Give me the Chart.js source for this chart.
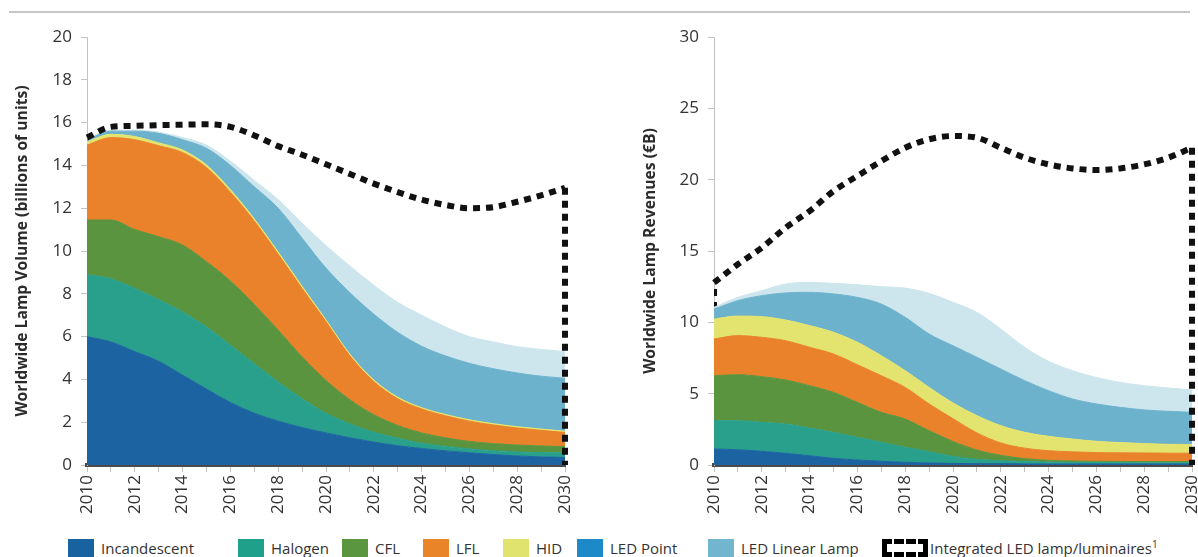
<!DOCTYPE html>
<html>
<head>
<meta charset="utf-8">
<script src="https://cdn.jsdelivr.net/npm/chart.js@4.4.1/dist/chart.umd.min.js"></script>
<style>
  html, body { margin: 0; padding: 0; background: #fff; }
  body { width: 1198px; height: 557px; overflow: hidden; position: relative; font-family: "Open Sans", sans-serif; }
  .rule { position: absolute; left: 9px; top: 11px; width: 1181px; height: 2px; background: #c6c6c6; }
  .chart { position: absolute; top: 0; height: 520px; }
  #left-wrap { left: 0; width: 600px; }
  #right-wrap { left: 600px; width: 640px; }
  .legend { position: absolute; top: 538px; left: 0; width: 1198px; height: 19px; font-size: 15px; color: #333; }
  .legend-item { position: absolute; top: 0; height: 19px; display: flex; align-items: center; white-space: nowrap; }
  .swatch { width: 26px; height: 18px; margin-right: 7px; }
  .dash-swatch { width: 36px; height: 8px; border: 5px dashed #000; margin-right: 2px; }
  sup { font-size: 10px; line-height: 0; }
</style>
</head>
<body>
<div class="rule"></div>
<div class="chart" id="left-wrap"><canvas id="chart-volume" width="600" height="520"></canvas></div>
<div class="chart" id="right-wrap"><canvas id="chart-revenue" width="640" height="520"></canvas></div>
<div class="legend" id="legend"></div>

<script>
const years = [2010, 2011, 2012, 2013, 2014, 2015, 2016, 2017, 2018, 2019, 2020,
  2021, 2022, 2023, 2024, 2025, 2026, 2027, 2028, 2029, 2030];

const seriesNames = ["Incandescent", "Halogen", "CFL", "LFL", "HID", "LED Linear Lamp", "LED Point"];

// Worldwide lamp volume, billions of units (stacked layers)
const volIncandescent = [6.0, 5.75, 5.3, 4.85, 4.2, 3.55, 2.92, 2.42, 2.05, 1.75, 1.5, 1.27, 1.07, 0.9, 0.77, 0.66, 0.57, 0.49, 0.42, 0.38, 0.35];
const volHalogen = [2.9, 2.95, 2.95, 2.88, 2.95, 2.9, 2.68, 2.31, 1.83, 1.35, 0.92, 0.65, 0.46, 0.35, 0.25, 0.21, 0.18, 0.18, 0.19, 0.2, 0.21];
const volCFL = [2.55, 2.75, 2.75, 2.94, 3.13, 3.05, 3.0, 2.77, 2.42, 1.95, 1.53, 1.13, 0.82, 0.6, 0.48, 0.4, 0.35, 0.33, 0.32, 0.31, 0.3];
const volLFL = [3.5, 3.85, 4.2, 4.25, 4.32, 4.4, 4.15, 3.9, 3.55, 3.2, 2.75, 2.05, 1.55, 1.25, 1.12, 1.03, 0.95, 0.87, 0.8, 0.73, 0.66];
const volHID = [0.15, 0.15, 0.15, 0.13, 0.12, 0.12, 0.12, 0.1, 0.1, 0.1, 0.08, 0.08, 0.07, 0.07, 0.06, 0.06, 0.06, 0.06, 0.06, 0.06, 0.06];
const volLEDLinear = [0.1, 0.15, 0.25, 0.45, 0.48, 0.78, 1.13, 1.5, 2.05, 2.25, 2.42, 2.87, 3.08, 3.03, 2.87, 2.74, 2.64, 2.57, 2.51, 2.47, 2.47];
const volLEDPoint = [0.05, 0.05, 0.05, 0.05, 0.1, 0.15, 0.2, 0.3, 0.4, 0.7, 1.05, 1.25, 1.35, 1.4, 1.45, 1.35, 1.25, 1.25, 1.23, 1.25, 1.25];
const volIntegratedTotal = [15.3, 15.8, 15.85, 15.88, 15.9, 15.92, 15.8, 15.4, 14.9, 14.5, 14.05, 13.6, 13.15, 12.75, 12.4, 12.15, 12.0, 12.05, 12.3, 12.6, 12.95];
const volumeTicks = [0, 2, 4, 6, 8, 10, 12, 14, 16, 18, 20];

// Worldwide lamp revenues, EUR billions (stacked layers)
const revIncandescent = [1.12, 1.07, 0.96, 0.82, 0.65, 0.47, 0.35, 0.26, 0.19, 0.14, 0.11, 0.09, 0.08, 0.07, 0.07, 0.07, 0.07, 0.07, 0.07, 0.07, 0.07];
const revHalogen = [1.98, 2.03, 2.03, 2.05, 1.94, 1.82, 1.59, 1.33, 1.05, 0.79, 0.49, 0.31, 0.22, 0.17, 0.13, 0.11, 0.1, 0.09, 0.08, 0.08, 0.08];
const revCFL = [3.16, 3.23, 3.2, 3.09, 2.97, 2.8, 2.45, 2.1, 1.98, 1.48, 1.05, 0.65, 0.38, 0.21, 0.13, 0.1, 0.09, 0.09, 0.09, 0.09, 0.09];
const revLFL = [2.57, 2.74, 2.76, 2.75, 2.69, 2.69, 2.64, 2.57, 2.22, 1.87, 1.6, 1.2, 0.87, 0.73, 0.67, 0.64, 0.61, 0.6, 0.6, 0.59, 0.59];
const revHID = [1.4, 1.37, 1.45, 1.45, 1.52, 1.52, 1.57, 1.4, 1.17, 1.16, 1.1, 1.21, 1.21, 1.11, 1.01, 0.9, 0.79, 0.72, 0.66, 0.62, 0.6];
const revLEDLinear = [0.7, 1.08, 1.47, 1.9, 2.33, 2.69, 3.15, 3.62, 3.74, 3.74, 4.01, 4.09, 3.97, 3.62, 3.2, 2.81, 2.62, 2.47, 2.36, 2.31, 2.26];
const revLEDPoint = [0.12, 0.23, 0.35, 0.63, 0.7, 0.74, 0.89, 1.22, 2.05, 2.85, 3.04, 3.15, 2.8, 2.34, 2.06, 1.98, 1.86, 1.75, 1.7, 1.64, 1.57];
const revIntegratedTotal = [12.78, 14.07, 15.23, 16.64, 17.8, 19.2, 20.26, 21.3, 22.24, 22.83, 23.06, 22.94, 22.24, 21.54, 21.07, 20.79, 20.68, 20.79, 21.07, 21.54, 22.24];
const revenueTicks = [0, 5, 10, 15, 20, 25, 30];

const legendLabels = ["Incandescent", "Halogen", "CFL", "LFL", "HID", "LED Point", "LED Linear Lamp"];

const FONT = "'Open Sans', sans-serif";
const bandColors = ["#1b64a1", "#28a08b", "#5b943e", "#e9822a", "#e3e46f", "#6db2cc", "#cde5ed"];
const legendColors = ["#18629f", "#1fa08a", "#5a953f", "#ea8428", "#e1e36f", "#1e89c9", "#72b5ce"];
const LEGEND_X = [68, 238, 342, 423, 503, 577, 708, 882];

Chart.defaults.font.family = FONT;

function buildChart(canvasId, cfg) {
  const last = years.length - 1;
  const datasets = cfg.series.map((values, i) => ({
    label: seriesNames[i],
    data: years.map((x, j) => ({ x, y: values[j] })),
    backgroundColor: bandColors[i],
    borderColor: bandColors[i],
    borderWidth: 1,
    fill: i === 0 ? "origin" : "-1",
    pointRadius: 0,
    cubicInterpolationMode: "monotone",
    order: 1,
  }));

  const dashed = {
    borderColor: "#111",
    borderWidth: 6,
    borderDash: [7, 6],
    borderCapStyle: "butt",
    pointRadius: 0,
    fill: false,
  };
  // Integrated LED outline: top curve and drop at 2030 in front, 2010 edge behind the areas
  datasets.push({ ...dashed, label: "Integrated LED lamp/luminaires",
    data: years.map((x, j) => ({ x, y: cfg.total[j] })),
    cubicInterpolationMode: "monotone", stack: "outline-top", order: 0, clip: false });
  datasets.push({ ...dashed, label: "outline-drop",
    data: [{ x: years[last], y: cfg.total[last] }, { x: years[last], y: 0 }],
    tension: 0, stack: "outline-drop", order: 0, clip: false });
  datasets.push({ ...dashed, label: "outline-start",
    data: [{ x: years[0], y: 0 }, { x: years[0], y: cfg.total[0] }],
    tension: 0, stack: "outline-start", order: 2, clip: 0 });

  const ticks = cfg.ticks;
  return new Chart(document.getElementById(canvasId), {
    type: "line",
    data: { datasets },
    options: {
      responsive: false,
      animation: false,
      devicePixelRatio: 1,
      layout: { padding: { top: 37, right: cfg.rightPad, left: 0, bottom: 0 } },
      plugins: { legend: { display: false }, tooltip: { enabled: false } },
      scales: {
        x: {
          type: "linear",
          min: years[0],
          max: years[last],
          grid: { drawOnChartArea: false, tickLength: 7, color: "#c3c3c3" },
          border: { color: "#4a4a4a", width: 4, dash: [7, 6] },
          ticks: {
            stepSize: 1,
            autoSkip: false,
            minRotation: 90,
            maxRotation: 90,
            padding: 3,
            color: "#333",
            font: { size: 17 },
            callback: (v) => (Math.round(v) % 2 === 0 ? String(Math.round(v)) : ""),
          },
          afterFit: (s) => { s.height = 55; },
        },
        y: {
          stacked: true,
          min: ticks[0],
          max: ticks[ticks.length - 1],
          grid: { drawOnChartArea: false, tickLength: 6, color: "#c3c3c3" },
          border: { color: "#c3c3c3" },
          ticks: { stepSize: ticks[1] - ticks[0], padding: 9, color: "#333", font: { size: 17 } },
          title: {
            display: true,
            text: cfg.title,
            color: "#2b2b2b",
            font: { size: 15.7, weight: "bold" },
            padding: { top: cfg.titlePad, bottom: 0 },
          },
          afterFit: (s) => { s.width = cfg.axisWidth; },
        },
      },
    },
  });
}

buildChart("chart-volume", {
  series: [volIncandescent, volHalogen, volCFL, volLFL, volHID, volLEDLinear, volLEDPoint],
  total: volIntegratedTotal,
  ticks: volumeTicks,
  title: "Worldwide Lamp Volume (billions of units)",
  axisWidth: 87,
  titlePad: 13,
  rightPad: 35,
});

buildChart("chart-revenue", {
  series: [revIncandescent, revHalogen, revCFL, revLFL, revHID, revLEDLinear, revLEDPoint],
  total: revIntegratedTotal,
  ticks: revenueTicks,
  title: "Worldwide Lamp Revenues (€B)",
  axisWidth: 114,
  titlePad: 41,
  rightPad: 48,
});

// Shared legend under both charts
const legendEl = document.getElementById("legend");
legendLabels.forEach((name, i) => {
  const item = document.createElement("div");
  item.className = "legend-item";
  item.style.left = LEGEND_X[i] + "px";
  item.innerHTML = `<span class="swatch" style="background:${legendColors[i]}"></span><span>${name}</span>`;
  legendEl.appendChild(item);
});
const integrated = document.createElement("div");
integrated.className = "legend-item";
integrated.style.left = LEGEND_X[legendLabels.length] + "px";
integrated.innerHTML = '<span class="dash-swatch"></span><span>Integrated LED lamp/luminaires<sup>1</sup></span>';
legendEl.appendChild(integrated);
</script>
</body>
</html>
